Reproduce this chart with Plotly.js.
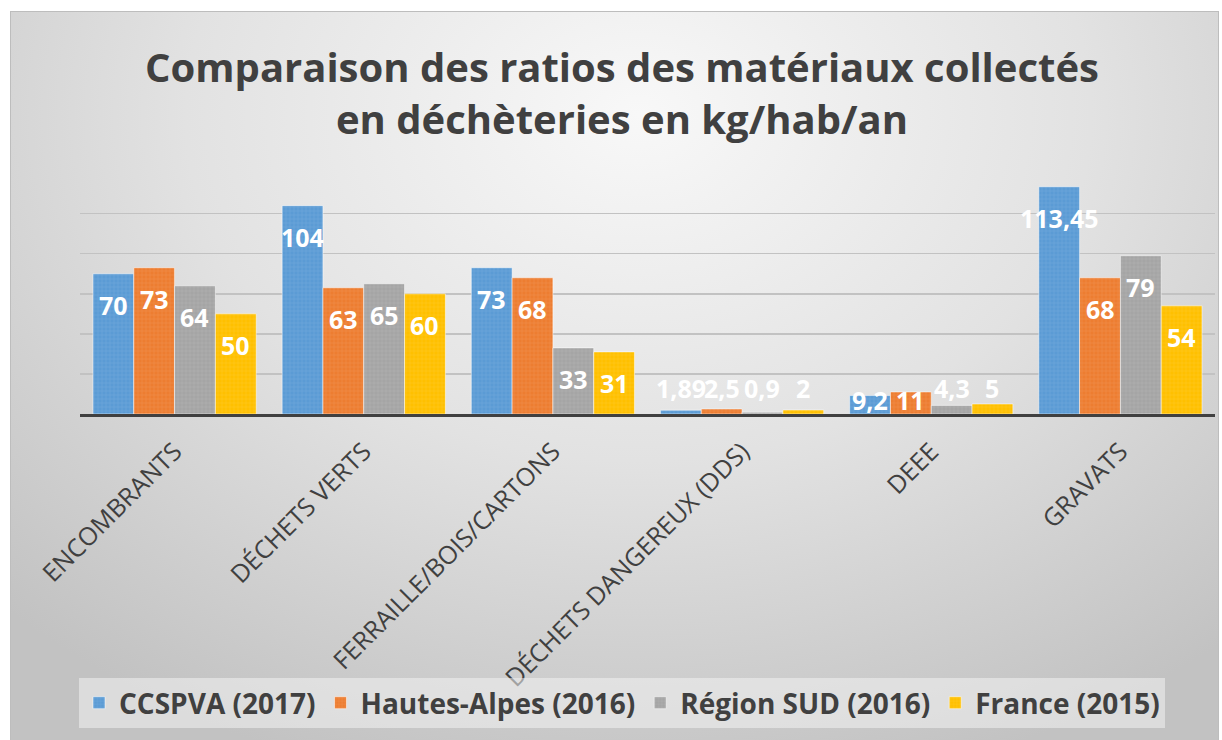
<!DOCTYPE html>
<html>
<head>
<meta charset="utf-8">
<script src="https://cdn.plot.ly/plotly-3.0.1.min.js"></script>
<style>
  html, body { margin: 0; padding: 0; background: #ffffff; }
  #frame {
    position: absolute; left: 10px; top: 11px; width: 1207px; height: 729px;
    border: 1px solid #bdbdbd; border-bottom: none;
    background: radial-gradient(ellipse 75% 95% at 52% 14%, #f8f8f8 0%, #e2e2e2 50%, #c2c2c2 100%);
  }
  #chart { position: absolute; left: 0; top: 0; width: 1222px; height: 740px; }
</style>
</head>
<body>
<div id="frame"></div>
<div id="chart"></div>
<script>
// ---- data ----
const categories = ['ENCOMBRANTS', 'DÉCHETS VERTS', 'FERRAILLE/BOIS/CARTONS', 'DÉCHETS DANGEREUX (DDS)', 'DEEE', 'GRAVATS'];
const seriesNames = ['CCSPVA (2017)', 'Hautes-Alpes (2016)', 'Région SUD (2016)', 'France (2015)'];
const ccspva      = [70, 104, 73, 1.89, 9.2, 113.45];
const hautesAlpes = [73, 63, 68, 2.5, 11, 68];
const regionSud   = [64, 65, 33, 0.9, 4.3, 79];
const france      = [50, 60, 31, 2, 5, 54];
const seriesValues = [ccspva, hautesAlpes, regionSud, france];
const colors = ['#5b9bd5', '#ed7d31', '#a5a5a5', '#ffc000'];

// ---- layout geometry ----
const W = 1222, H = 740;
const margin = { l: 80, r: 7, t: 173, b: 326, pad: 0 };
const bargap = 0.137;
const yMax = 120.3;
const plotW = W - margin.l - margin.r;
const plotH = H - margin.t - margin.b;
const catW = plotW / categories.length;
const barW = catW * (1 - bargap) / seriesValues.length;
const ppu = plotH / yMax;

const fmt = v => String(v).replace('.', ',');

const traces = seriesValues.map((vals, s) => ({
  type: 'bar',
  name: seriesNames[s],
  x: categories,
  y: vals,
  marker: {
    color: colors[s],
    line: { color: 'rgba(255,255,255,0.5)', width: 1 },
    pattern: { shape: '+', bgcolor: colors[s], fgcolor: 'rgba(255,255,255,0.22)', size: 4, solidity: 0.15 }
  },
  hoverinfo: 'x+y+name'
}));

const annotations = [];
seriesValues.forEach((vals, s) => {
  vals.forEach((v, i) => {
    const hPx = v * ppu;
    let y, yshift;
    if (hPx >= 45) { y = v; yshift = -31; }
    else if (v >= 8) { y = 0; yshift = 14; }
    else { y = 0; yshift = 26; }
    annotations.push({
      x: categories[i], y: y, xref: 'x', yref: 'y',
      text: fmt(v), showarrow: false,
      xshift: (s - (seriesValues.length - 1) / 2) * barW,
      yshift: yshift, yanchor: 'middle', xanchor: 'center',
      font: { family: 'Open Sans', size: 25, color: '#ffffff', weight: 700 }
    });
  });
});

const layout = {
  width: W, height: H,
  margin: margin,
  paper_bgcolor: 'rgba(0,0,0,0)',
  plot_bgcolor: 'rgba(0,0,0,0)',
  barmode: 'group',
  bargap: bargap,
  bargroupgap: 0,
  title: {
    text: 'Comparaison des ratios des matériaux collectés<br>en déchèteries en kg/hab/an',
    x: 0.509, xref: 'container', xanchor: 'center',
    y: 1 - 82 / H, yref: 'container', yanchor: 'middle',
    font: { family: 'Open Sans', size: 40, color: '#404040', weight: 700 }
  },
  xaxis: {
    type: 'category',
    tickangle: -45,
    tickfont: { family: 'Open Sans', size: 25, color: '#404040' },
    ticklabelstandoff: 10,
    showline: true, linecolor: '#404040', linewidth: 3,
    ticks: '', showgrid: false,
    automargin: false
  },
  yaxis: {
    range: [0, yMax],
    dtick: 20,
    showticklabels: false,
    showgrid: true, gridcolor: '#c2c2c2', gridwidth: 1.5,
    zeroline: false, showline: false, ticks: '',
    automargin: false
  },
  showlegend: true,
  legend: {
    orientation: 'h',
    xref: 'container', yref: 'container',
    x: 622 / W, xanchor: 'center',
    y: 1 - 703 / H, yanchor: 'middle',
    bgcolor: 'rgba(242,242,242,0.55)',
    font: { family: 'Open Sans', size: 28, color: '#404040', weight: 700 },
    itemclick: false, itemdoubleclick: false
  },
  annotations: annotations
};

Plotly.newPlot('chart', traces, layout, { displayModeBar: false, staticPlot: true });
</script>
</body>
</html>
